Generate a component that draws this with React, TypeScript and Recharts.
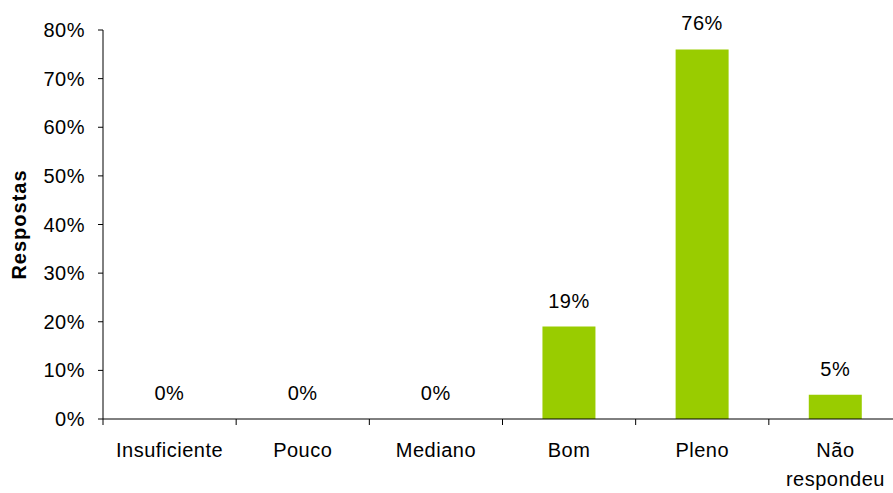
import { Bar, BarChart, LabelList, XAxis, YAxis } from "recharts"

const categories = ["Insuficiente", "Pouco", "Mediano", "Bom", "Pleno", "Não respondeu"]
const respostas = [0, 0, 0, 19, 76, 5]
const yTicks = [0, 10, 20, 30, 40, 50, 60, 70, 80]

const data = categories.map((name, i) => ({ name, value: respostas[i] }))

const CHART_W = 902
const CHART_H = 493
const Y_AXIS_W = 103
const BAND = (CHART_W - Y_AXIS_W) / categories.length
const FONT = "'Liberation Sans', Arial, sans-serif"
const TEXT = { fill: "#000", fontSize: 20, fontFamily: FONT, letterSpacing: 0.5 }

function CategoryTick(props: any) {
  const { x, y, payload, index } = props
  const lines = payload.value === "Não respondeu" ? ["Não", "respondeu"] : [payload.value]
  return (
    <g>
      <line x1={x - BAND / 2} x2={x - BAND / 2} y1={y} y2={y + 6} stroke="#000" />
      {index === categories.length - 1 && (
        <line x1={x + BAND / 2} x2={x + BAND / 2} y1={y} y2={y + 6} stroke="#000" />
      )}
      <text x={x} y={y + 38} textAnchor="middle" style={TEXT}>
        {lines.map((l, i) => (
          <tspan key={i} x={x} dy={i === 0 ? 0 : 29}>
            {l}
          </tspan>
        ))}
      </text>
    </g>
  )
}

export default function App() {
  return (
    <div style={{ position: "fixed", left: 0, top: 0, width: 893, height: 493, overflow: "hidden", background: "#fff" }}>
      <BarChart
        width={CHART_W}
        height={CHART_H}
        data={data}
        margin={{ top: 30, right: 0, bottom: 0, left: 0 }}
        barCategoryGap="30%"
      >
        <XAxis
          dataKey="name"
          height={74}
          axisLine={{ stroke: "#000" }}
          tickLine={false}
          tickSize={0}
          tickMargin={0}
          interval={0}
          tick={<CategoryTick />}
        />
        <YAxis
          width={Y_AXIS_W}
          domain={[0, 80]}
          ticks={yTicks}
          interval={0}
          tickFormatter={(v) => `${v}%`}
          axisLine={{ stroke: "#000" }}
          tickLine={{ stroke: "#000" }}
          tickSize={5}
          tickMargin={13}
          tick={TEXT}
          label={{
            content: ({ viewBox }: any) => {
              const cy = viewBox.y + viewBox.height / 2
              return (
                <text
                  x={19}
                  y={cy}
                  transform={`rotate(-90, 19, ${cy})`}
                  textAnchor="middle"
                  dominantBaseline="central"
                  style={{ fill: "#000", fontSize: 20, fontWeight: "bold", fontFamily: FONT, letterSpacing: 1 }}
                >
                  Respostas
                </text>
              )
            },
          }}
        />
        <Bar dataKey="value" fill="#99CC00" minPointSize={0.01} isAnimationActive={false}>
          <LabelList
            dataKey="value"
            position="top"
            offset={19}
            formatter={(v: any) => `${v}%`}
            style={TEXT}
          />
        </Bar>
      </BarChart>
    </div>
  )
}
